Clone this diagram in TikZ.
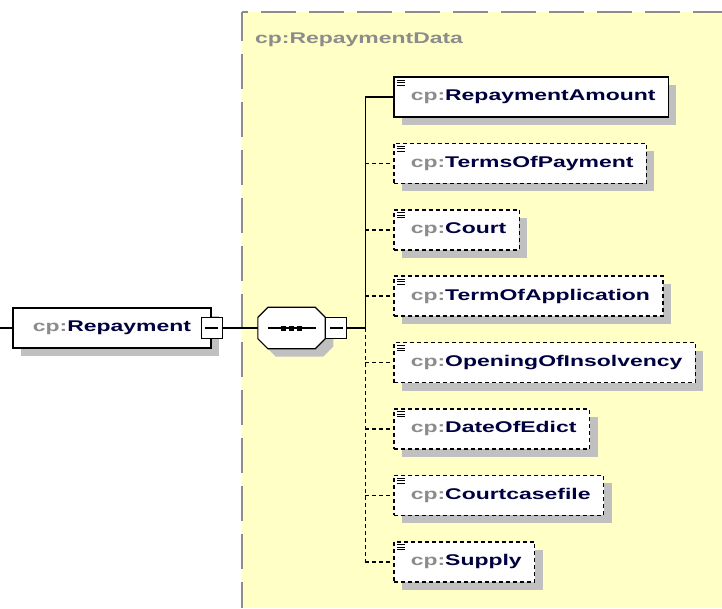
\documentclass[tikz,border=0pt]{standalone}
\usepackage{fontspec}
\setmainfont{Liberation Sans}
\newfontfamily\xsdfont[FakeStretch=1.48]{Liberation Sans}
\usetikzlibrary{calc, positioning, shadows}
\definecolor{XSDYellow}{HTML}{FFFFC6}
\definecolor{XSDGray}{HTML}{8C8C8C}
\definecolor{XSDShadow}{HTML}{C0C0C0}
\definecolor{XSDNavy}{HTML}{000040}
\newcommand{\cpname}[1]{\textcolor{XSDGray}{cp:}\textcolor{XSDNavy}{#1}}
\tikzstyle{xsdshadow} = [drop shadow={shadow xshift=8pt,shadow yshift=-8pt,fill=XSDShadow,opacity=1}]
\tikzstyle{element} = [draw,fill=white,line width=1.5pt,minimum height=40pt,inner xsep=13pt,inner ysep=0pt,font=\xsdfont\bfseries\fontsize{15.5}{18}\selectfont,xsdshadow]
\tikzstyle{optional} = [element,dash pattern=on 4pt off 3pt,line width=1.6pt]
\tikzstyle{docicon} = [path picture={\foreach \d in {3,5.5,8} \draw[solid,line width=1pt] ([xshift=3pt,yshift=-\d pt]path picture bounding box.north west) -- ++(8pt,0pt);}]
\tikzstyle{collapse} = [draw,fill=white,line width=1.2pt,minimum size=21pt,inner sep=0pt,path picture={\draw[line width=1.2pt] ([xshift=4pt]path picture bounding box.west) -- ([xshift=-4pt]path picture bounding box.east);}]
\tikzstyle{link} = [line width=1.4pt]
\tikzstyle{optlink} = [link,line width=1.6pt,dash pattern=on 4pt off 3pt]
\pgfdeclarelayer{background}
\pgfsetlayers{background,main}

\begin{document}
\begin{tikzpicture}[x=1pt,y=-1pt]
	\useasboundingbox (0,0) rectangle (722,608);
	
	\begin{pgfonlayer}{background}
	\fill[XSDYellow] (242,12) rectangle (722,608);
	\draw[XSDGray,line width=2pt,dash pattern=on 35pt off 13pt,dash phase=29pt] (242,12) -- (722,12);
	\draw[XSDGray,line width=2pt,dash pattern=on 35pt off 13pt,dash phase=6pt] (242,12) -- (242,608);
	\end{pgfonlayer}
	
	\node[anchor=base west,inner sep=0pt,font=\xsdfont\bfseries\fontsize{15.5}{18}\selectfont,text=XSDGray] (group) at (255,43) {cp:RepaymentData};
	
	\coordinate (in) at (0,328);
	\node[element,minimum width=198pt] (repayment) at (112,328) {\cpname{Repayment}};
	\node[collapse] (rpminus) at (repayment.east) {};
	
	% sequence compositor
	\node[minimum width=67pt,minimum height=41pt,inner sep=0pt,right=35pt of rpminus] (seq) {};
	\filldraw[fill=white,line width=1.2pt,xsdshadow] ($(seq.north west)+(10pt,0pt)$) -- ($(seq.north east)+(-10pt,0pt)$) -- ($(seq.north east)+(0pt,-10pt)$) -- ($(seq.south east)+(0pt,10pt)$) -- ($(seq.south east)+(-10pt,0pt)$) -- ($(seq.south west)+(10pt,0pt)$) -- ($(seq.south west)+(0pt,10pt)$) -- ($(seq.north west)+(0pt,-10pt)$) -- cycle;
	\node[collapse,right=0pt of seq] (seqminus) {};
	\coordinate[right=18pt of seqminus] (bus);
	
	\draw[link] ([xshift=-24pt]seq.center) -- ([xshift=24pt]seq.center);
	\foreach \s in {-8,0,8}
		\fill ([xshift=\s pt]seq.center) +(-2.5pt,-2.5pt) rectangle +(2.5pt,2.5pt);
	
	\node[element,docicon,anchor=west] (amount) at (393,97) {\hspace{4pt}\cpname{RepaymentAmount}};
	\node[optional,docicon,below=24.8pt of amount.south west,anchor=north west] (terms) {\hspace{4pt}\cpname{TermsOfPayment}};
	\node[optional,docicon,below=24.8pt of terms.south west,anchor=north west] (court) {\hspace{4pt}\cpname{Court}};
	\node[optional,docicon,below=24.8pt of court.south west,anchor=north west] (termapp) {\hspace{4pt}\cpname{TermOfApplication}};
	\node[optional,docicon,below=24.8pt of termapp.south west,anchor=north west] (opening) {\hspace{4pt}\cpname{OpeningOfInsolvency}};
	\node[optional,docicon,below=24.8pt of opening.south west,anchor=north west] (edict) {\hspace{4pt}\cpname{DateOfEdict}};
	\node[optional,docicon,below=24.8pt of edict.south west,anchor=north west] (casefile) {\hspace{4pt}\cpname{Courtcasefile}};
	\node[optional,docicon,below=24.8pt of casefile.south west,anchor=north west] (supply) {\hspace{4pt}\cpname{Supply}};
	
	\draw[link] (in) -- (repayment);
	\draw[link] (rpminus) -- (seq);
	\draw[link] (seqminus) -- (bus);
	
	\draw[link] (amount.west -| bus) -- (bus);
	\draw[optlink] (bus) -- (supply.west -| bus);
	
	\draw[link] (amount.west -| bus) -- (amount);
	\draw[optlink] (terms.west -| bus) -- (terms);
	\draw[optlink] (court.west -| bus) -- (court);
	\draw[optlink] (termapp.west -| bus) -- (termapp);
	\draw[optlink] (opening.west -| bus) -- (opening);
	\draw[optlink] (edict.west -| bus) -- (edict);
	\draw[optlink] (casefile.west -| bus) -- (casefile);
	\draw[optlink] (supply.west -| bus) -- (supply);
\end{tikzpicture}
\end{document}
